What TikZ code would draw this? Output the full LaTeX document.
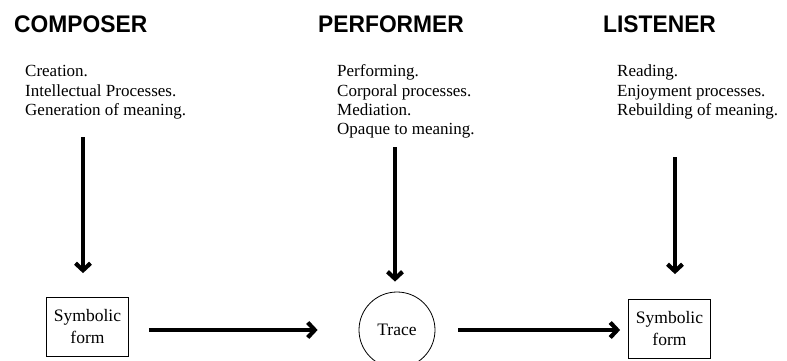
\documentclass[tikz,border=0pt]{standalone}
\usepackage{fontspec}
\setmainfont{Liberation Serif}
\newfontfamily\headfont{Liberation Sans}[FakeStretch=0.95]
\usetikzlibrary{arrows.meta,positioning}

\begin{document}
\begin{tikzpicture}[x=1pt,y=-1pt,
  heading/.style={anchor=base west, inner sep=0pt, font=\headfont\bfseries\fontsize{24}{28}\selectfont},
  body/.style={anchor=base west, inner sep=0pt, font=\fontsize{17}{19}\selectfont},
  formbox/.style={draw, line width=0.8pt, minimum width=82pt, minimum height=59pt, align=center, inner sep=0pt, font=\fontsize{17.5}{22}\selectfont},
  tracecirc/.style={draw, circle, line width=0.8pt, minimum size=76pt, inner sep=0pt, font=\fontsize{17.5}{22}\selectfont},
  flow/.style={line width=3.2pt, -{Straight Barb[length=7pt,width=15pt,line width=1pt 1]}}
]
\useasboundingbox (0,0) rectangle (787,361);

% Headings of the three columns
\node[heading] (composer) at (14,33) {COMPOSER};
\node[heading] (performer) at (318,33) {PERFORMER};
\node[heading] (listener) at (603,33) {LISTENER};

% Lines under each heading
\foreach \line [count=\i] in {Creation., Intellectual Processes., Generation of meaning.} {
    \node[body] (comp\i) at (25,58+19*\i) {\line};
}
\foreach \line [count=\i] in {Performing., Corporal processes., Mediation., Opaque to meaning.} {
    \node[body] (perf\i) at (337,58+19*\i) {\line};
}
\foreach \line [count=\i] in {Reading., Enjoyment processes., Rebuilding of meaning.} {
    \node[body] (list\i) at (617,58+19*\i) {\line};
}

% Bottom row
\node[formbox] (sym1) at (87.5,327) {Symbolic\\form};
\node[tracecirc] (trace) at (397,330) {Trace};
\node[formbox] (sym2) at (669.5,329) {Symbolic\\form};

% Start points of the downward arrows
\coordinate (compdown) at (83,137);
\coordinate (perfdown) at (395,147);
\coordinate (listdown) at (675,157);

\draw[flow, shorten >=24pt] (compdown) -- (compdown |- sym1.north);
\draw[flow, shorten >=10pt] (perfdown) -- (perfdown |- trace.north);
\draw[flow, shorten >=25pt] (listdown) -- (listdown |- sym2.north);

% Horizontal arrows
\draw[flow, shorten <=20pt, shorten >=41pt] (sym1.east |- trace) -- (trace.west);
\draw[flow, shorten <=23pt, shorten >=8pt] (trace.east) -- (sym2.west |- trace);
\end{tikzpicture}
\end{document}
